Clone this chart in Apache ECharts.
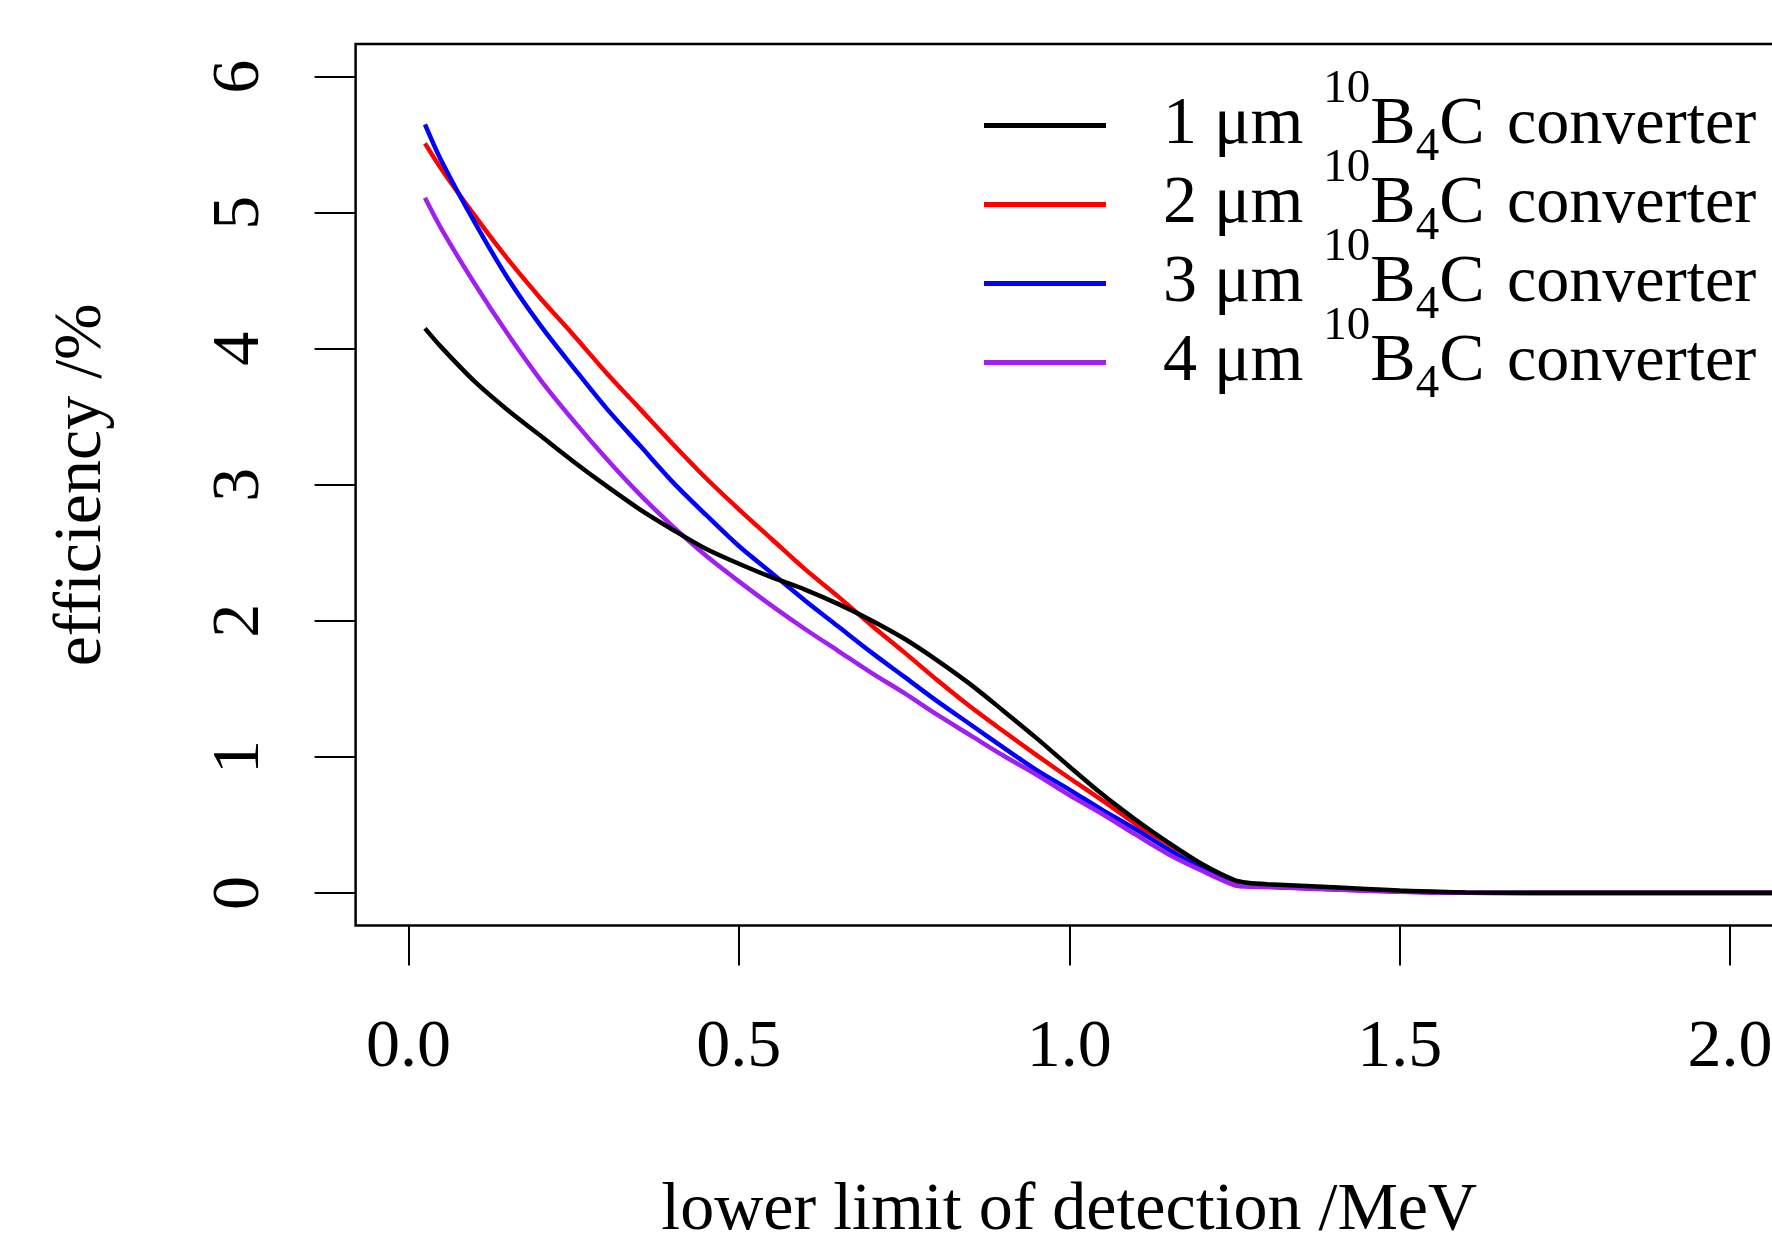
<!DOCTYPE html>
<html>
<head>
<meta charset="utf-8">
<title>efficiency</title>
<script src="https://cdn.jsdelivr.net/npm/echarts@6/dist/echarts.min.js"></script>
<style>
    html, body { margin: 0; padding: 0; background: #fff; }
    #chart { width: 1772px; height: 1239px; }
</style>
</head>
<body>
<div id="chart"></div>
<script>
// 横轴：探测下限 /MeV
var xs = [0.025, 0.05, 0.1, 0.15, 0.2, 0.25, 0.3, 0.35, 0.4, 0.45, 0.5, 0.55, 0.6, 0.65, 0.7, 0.75, 0.8,
    0.85, 0.9, 0.95, 1.0, 1.05, 1.1, 1.15, 1.2, 1.25, 1.27, 1.3, 1.4, 1.5, 1.6, 1.8, 2.0, 2.08];

// 效率 /%
var eff1 = [4.15, 4.01, 3.76, 3.55, 3.36, 3.17, 2.99, 2.82, 2.67, 2.53, 2.42, 2.32, 2.23, 2.125, 2.005, 1.87, 1.71,
    1.535, 1.34, 1.14, 0.93, 0.725, 0.54, 0.37, 0.215, 0.095, 0.075, 0.064, 0.042, 0.018, 0.004, 0.002, 0.002, 0.002];
var eff2 = [5.51, 5.32, 4.98, 4.66, 4.37, 4.10, 3.82, 3.56, 3.30, 3.05, 2.82, 2.60, 2.38, 2.18, 1.97, 1.77, 1.565,
    1.37, 1.19, 1.015, 0.845, 0.68, 0.51, 0.36, 0.21, 0.07, 0.055, 0.048, 0.03, 0.012, 0.002, 0, 0, 0];
var eff3 = [5.65, 5.38, 4.93, 4.52, 4.17, 3.86, 3.56, 3.29, 3.02, 2.78, 2.55, 2.35, 2.15, 1.96, 1.77, 1.59, 1.41,
    1.24, 1.07, 0.905, 0.76, 0.61, 0.47, 0.32, 0.18, 0.06, 0.05, 0.045, 0.027, 0.01, 0.001, 0, 0, 0];
var eff4 = [5.11, 4.88, 4.48, 4.11, 3.77, 3.47, 3.19, 2.93, 2.695, 2.48, 2.29, 2.11, 1.94, 1.78, 1.62, 1.47, 1.31,
    1.16, 1.01, 0.87, 0.72, 0.58, 0.43, 0.285, 0.165, 0.058, 0.048, 0.043, 0.025, 0.009, 0.001, 0, 0, 0];

var names = ['1 μm', '2 μm', '3 μm', '4 μm'];
var colors = ['#000000', '#ff0000', '#0000ff', '#a020f0'];
var xTicks = [0, 0.5, 1.0, 1.5, 2.0];
var yTicks = [0, 1, 2, 3, 4, 5, 6];

var font = 'Liberation Serif';

function pairs(vals) {
    var res = [];
    for (var i = 0; i < xs.length; i++) {
        res.push([xs[i], vals[i]]);
    }
    return res;
}

function makeSeries(k, vals) {
    return {
        name: names[k],
        type: 'line',
        data: pairs(vals),
        showSymbol: false,
        smooth: 0.3,
        z: k === 0 ? 5 : 2,
        itemStyle: { color: colors[k] },
        lineStyle: { color: colors[k], width: 4.5 },
        emphasis: { disabled: true },
        animation: false
    };
}

var chart = echarts.init(document.getElementById('chart'));

var option = {
    backgroundColor: '#ffffff',
    animation: false,
    textStyle: { fontFamily: font, color: '#000' },
    grid: {
        left: 355.6,
        top: 44,
        width: 1427.3,
        height: 881.6,
        show: true,
        borderColor: '#000',
        borderWidth: 2.5,
        containLabel: false,
        outerBoundsMode: 'none'
    },
    legend: {
        data: names,
        orient: 'vertical',
        left: 984,
        top: 66,
        padding: 0,
        itemGap: -40,
        icon: 'rect',
        itemWidth: 122,
        itemHeight: 5,
        selectedMode: false,
        formatter: function (name) {
            return '{n|' + name + ' }{sup|10}{b|B}{sub|4}{b|C}{c| converter}';
        },
        textStyle: {
            fontFamily: font,
            color: '#000',
            rich: {
                n: { fontFamily: font, fontSize: 68, lineHeight: 80, padding: [0, 0, 0, 52] },
                sup: { fontFamily: font, fontSize: 47, lineHeight: 80, padding: [0, 0, 72, 3] },
                b: { fontFamily: font, fontSize: 68, lineHeight: 80 },
                sub: { fontFamily: font, fontSize: 47, lineHeight: 80, padding: [44, 0, 0, 0] },
                c: { fontFamily: font, fontSize: 66, lineHeight: 80, padding: [0, 0, 0, 6] }
            }
        }
    },
    xAxis: {
        type: 'value',
        min: -0.08,
        max: 2.08,
        name: 'lower limit of detection /MeV',
        nameLocation: 'middle',
        nameGap: 252,
        nameTextStyle: { fontFamily: font, fontSize: 68, color: '#000' },
        axisLine: { show: false, onZero: false },
        splitLine: { show: false },
        axisTick: {
            show: true,
            length: 40,
            customValues: xTicks,
            lineStyle: { color: '#000', width: 2 }
        },
        axisLabel: {
            customValues: xTicks,
            margin: 89,
            fontFamily: font,
            fontSize: 68,
            color: '#000',
            formatter: function (v) { return v.toFixed(1); }
        }
    },
    yAxis: {
        type: 'value',
        min: -0.24,
        max: 6.24,
        name: 'efficiency /%',
        nameLocation: 'middle',
        nameRotate: 90,
        nameGap: 239,
        nameTextStyle: { fontFamily: font, fontSize: 68, color: '#000' },
        axisLine: { show: false, onZero: false },
        splitLine: { show: false },
        axisTick: {
            show: true,
            length: 41,
            customValues: yTicks,
            lineStyle: { color: '#000', width: 2 }
        },
        axisLabel: {
            customValues: yTicks,
            rotate: 90,
            margin: 81,
            fontFamily: font,
            fontSize: 68,
            color: '#000',
            formatter: function (v) { return String(Math.round(v)); }
        }
    },
    series: [
        makeSeries(0, eff1),
        makeSeries(1, eff2),
        makeSeries(2, eff3),
        makeSeries(3, eff4)
    ]
};

chart.setOption(option);
</script>
</body>
</html>
